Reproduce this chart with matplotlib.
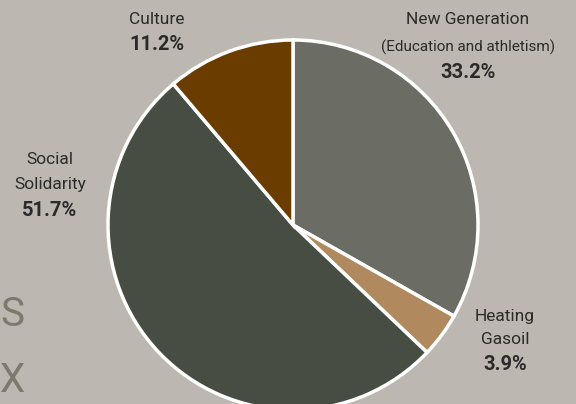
import matplotlib
matplotlib.use("Agg")
import matplotlib.pyplot as plt
from matplotlib import font_manager

# slice data, clockwise from the top
labels = ["New Generation", "Heating\nGasoil", "Social\nSolidarity", "Culture"]
shares = [33.2, 3.9, 51.7, 11.2]
colors = ["#6b6d64", "#b08a5e", "#474d42", "#6b3c00"]
bg = "#bcb8b1"

names = {f.name for f in font_manager.fontManager.ttflist}
fam = "Liberation Sans Narrow" if "Liberation Sans Narrow" in names else "Roboto"
plt.rcParams["font.family"] = [fam, "DejaVu Sans"]

W, H = 576, 404
fig = plt.figure(figsize=(5.76, 4.04), dpi=100, facecolor=bg)
ax = fig.add_axes([0, 0, 1, 1])
ax.set_facecolor(bg)

# faded letters behind the chart on the left
ax.text(0, H - 314, "S", fontsize=29, color="#7b7a6c", ha="left", va="center")
ax.text(0, H - 381, "X", fontsize=29, color="#7b7a6c", ha="left", va="center")

ax.pie(shares, colors=colors, startangle=90, counterclock=False,
       center=(293, H - 225), radius=185, frame=True,
       wedgeprops=dict(edgecolor="white", linewidth=2.5))
ax.set_xlim(0, W)
ax.set_ylim(0, H)
ax.axis("off")

txt = "#2a2a2a"
def label(x, y, lines, pct, sizes):
    for (s, fs, py) in zip(lines, sizes, y):
        ax.text(x, H - py, s, fontsize=fs, color=txt, ha="center", va="center")
    ax.text(x, H - y[-1] - 25, pct, fontsize=14.5, fontweight="bold",
            color=txt, ha="center", va="center")

label(157, [20], ["Culture"], "11.2%", [12.5])
label(468, [20, 47], ["New Generation", "(Education and athletism)"], "33.2%", [12.5, 11])
label(50, [160, 185], ["Social", "Solidarity"], "51.7%", [12.5, 12.5])
label(505, [316, 340], ["Heating", "Gasoil"], "3.9%", [12.5, 12.5])

fig.savefig("out.png", dpi=100, facecolor=bg)
